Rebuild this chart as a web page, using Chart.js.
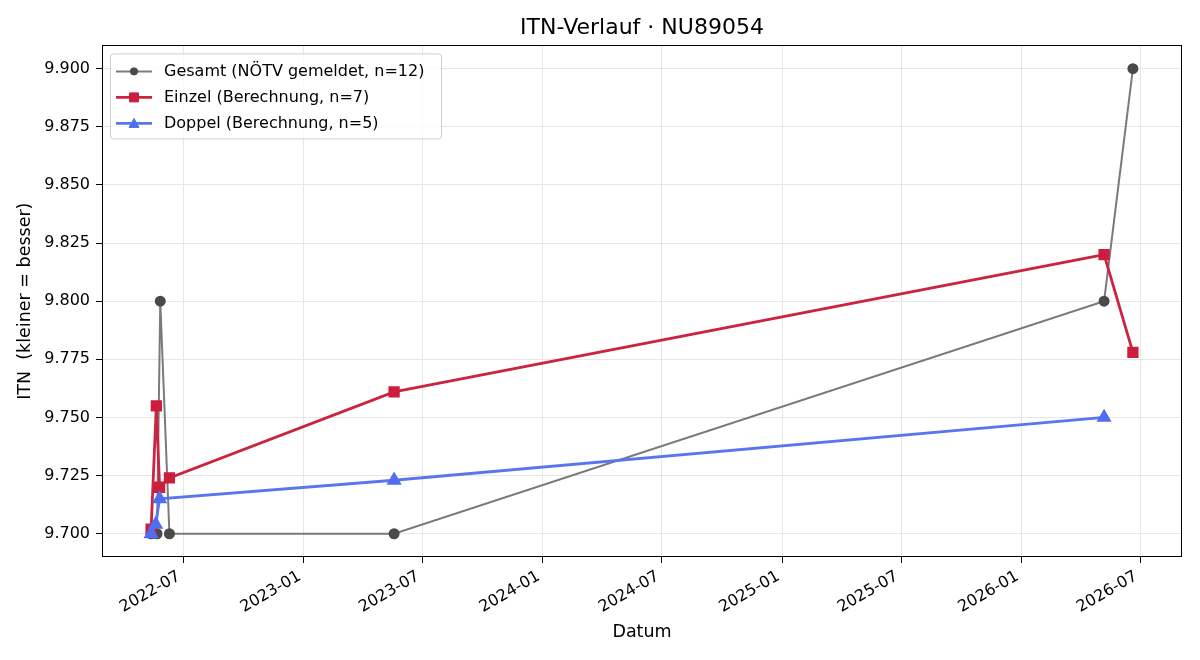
<!DOCTYPE html>
<html>
<head>
<meta charset="utf-8">
<script src="https://cdn.jsdelivr.net/npm/chart.js@4"></script>
<style>
  html, body { margin: 0; padding: 0; background: #fff; }
  #wrap { width: 1200px; height: 660px; }
</style>
</head>
<body>
<div id="wrap"><canvas id="itnchart" width="1200" height="660"></canvas></div>
<script>
// data
const gesamt_dates = ['2022-05-13', '2022-05-22', '2022-05-27', '2022-06-10', '2023-05-19', '2026-05-07', '2026-06-20'];
const gesamt_values = [9.700, 9.700, 9.800, 9.700, 9.700, 9.800, 9.900];

const einzel_dates = ['2022-05-13', '2022-05-21', '2022-05-26', '2022-06-10', '2023-05-19', '2026-05-07', '2026-06-20'];
const einzel_values = [9.702, 9.755, 9.720, 9.724, 9.761, 9.820, 9.778];

const doppel_dates = ['2022-05-13', '2022-05-20', '2022-05-26', '2023-05-19', '2026-05-07'];
const doppel_values = [9.700, 9.704, 9.715, 9.723, 9.750];

const x_tick_labels = ['2022-07', '2023-01', '2023-07', '2024-01', '2024-07', '2025-01', '2025-07', '2026-01', '2026-07'];
const y_tick_values = [9.700, 9.725, 9.750, 9.775, 9.800, 9.825, 9.850, 9.875, 9.900];

const FONT = "'DejaVu Sans', 'Liberation Sans', sans-serif";

function toPoints(dates, values){
    return dates.map((d, i) => ({x: Date.parse(d + 'T00:00:00Z'), y: values[i]}));
}

const all_times = [].concat(gesamt_dates, einzel_dates, doppel_dates).map(d => Date.parse(d + 'T00:00:00Z'));
const t_min = Math.min(...all_times);
const t_max = Math.max(...all_times);
const t_pad = (t_max - t_min) * 0.05;
const x_ticks = x_tick_labels.map(l => Date.parse(l + '-01T00:00:00Z'));

// legend box inside the axes, like matplotlib's upper left
const innerLegend = {
    id: 'innerLegend',
    afterDatasetsDraw(chart){
        const ctx = chart.ctx;
        const area = chart.chartArea;
        const x0 = area.left + 8, y0 = area.top + 8;
        const w = 331, h = 85;
        ctx.save();
        ctx.fillStyle = 'rgba(255,255,255,0.8)';
        ctx.strokeStyle = '#d0d0d0';
        ctx.lineWidth = 1;
        ctx.beginPath();
        ctx.roundRect(x0 + 0.5, y0 + 0.5, w, h, 3);
        ctx.fill();
        ctx.stroke();
        ctx.font = '16px ' + FONT;
        ctx.textBaseline = 'middle';
        chart.data.datasets.forEach((ds, i) => {
            const cy = y0 + 18 + i * 26;
            ctx.strokeStyle = ds.borderColor;
            ctx.lineWidth = ds.borderWidth;
            ctx.beginPath();
            ctx.moveTo(x0 + 6, cy);
            ctx.lineTo(x0 + 42, cy);
            ctx.stroke();
            ctx.fillStyle = ds.pointBackgroundColor;
            ctx.strokeStyle = ds.pointBorderColor;
            ctx.lineWidth = 1;
            ctx.beginPath();
            if (ds.pointStyle === 'circle') {
                ctx.arc(x0 + 24, cy, 3.6, 0, Math.PI * 2);
            } else if (ds.pointStyle === 'rect') {
                ctx.rect(x0 + 24 - 4.5, cy - 4.5, 9, 9);
            } else {
                ctx.moveTo(x0 + 24, cy - 5);
                ctx.lineTo(x0 + 24 + 5, cy + 4);
                ctx.lineTo(x0 + 24 - 5, cy + 4);
                ctx.closePath();
            }
            ctx.fill();
            ctx.stroke();
            ctx.fillStyle = '#000';
            ctx.fillText(ds.label, x0 + 54, cy);
        });
        ctx.restore();
    },
    afterDraw(chart){
        const a = chart.chartArea;
        const ctx = chart.ctx;
        ctx.save();
        ctx.strokeStyle = '#000';
        ctx.lineWidth = 1;
        ctx.strokeRect(Math.round(a.left) + 0.5, Math.round(a.top) + 0.5,
                       Math.round(a.right - a.left) - 1, Math.round(a.bottom - a.top) - 1);
        ctx.restore();
    }
};

new Chart(document.getElementById('itnchart').getContext('2d'), {
    type: 'line',
    data: {
        datasets: [{
            label: 'Gesamt (NÖTV gemeldet, n=12)',
            data: toPoints(gesamt_dates, gesamt_values),
            borderColor: '#7a7a7a',
            borderWidth: 2,
            pointStyle: 'circle',
            pointRadius: 4.5,
            pointBackgroundColor: '#4a4a4a',
            pointBorderColor: '#4a4a4a',
            order: 3
        }, {
            label: 'Einzel (Berechnung, n=7)',
            data: toPoints(einzel_dates, einzel_values),
            borderColor: 'rgb(203,36,64)',
            borderWidth: 2.8,
            pointStyle: 'rect',
            pointRadius: 6,
            pointBackgroundColor: 'rgb(203,30,62)',
            pointBorderColor: 'rgb(203,30,62)',
            order: 2
        }, {
            label: 'Doppel (Berechnung, n=5)',
            data: toPoints(doppel_dates, doppel_values),
            borderColor: 'rgb(90,117,240)',
            borderWidth: 2.8,
            pointStyle: 'triangle',
            pointRadius: 6,
            pointBackgroundColor: 'rgb(80,110,240)',
            pointBorderColor: 'rgb(80,110,240)',
            order: 1
        }]
    },
    options: {
        responsive: false,
        animation: false,
        layout: { padding: { left: 0, right: 18, top: 0, bottom: 0 } },
        plugins: {
            legend: { display: false },
            tooltip: { enabled: false },
            title: {
                display: true,
                text: 'ITN-Verlauf · NU89054',
                fullSize: false,
                color: '#000',
                font: { family: FONT, size: 22, weight: 'normal' },
                padding: { top: 15, bottom: 4 }
            }
        },
        scales: {
            x: {
                type: 'linear',
                min: t_min - t_pad,
                max: t_max + t_pad,
                afterBuildTicks: axis => { axis.ticks = x_ticks.map(v => ({value: v})); },
                afterFit: axis => { axis.height = 103; },
                grid: { color: '#e6e6e6', lineWidth: 1, tickColor: '#000', tickLength: 6 },
                border: { display: false },
                ticks: {
                    autoSkip: false,
                    maxRotation: 30,
                    minRotation: 30,
                    padding: 4,
                    labelOffset: -4,
                    color: '#000',
                    font: { family: FONT, size: 16 },
                    callback: (v) => x_tick_labels[x_ticks.indexOf(v)] ?? ''
                },
                title: {
                    display: true,
                    text: 'Datum',
                    color: '#000',
                    font: { family: FONT, size: 17.5 },
                    padding: { top: 0, bottom: 17 }
                }
            },
            y: {
                min: 9.69,
                max: 9.91,
                afterBuildTicks: axis => { axis.ticks = y_tick_values.map(v => ({value: v})); },
                afterFit: axis => { axis.width = 102; },
                grid: { color: '#e6e6e6', lineWidth: 1, tickColor: '#000', tickLength: 6 },
                border: { display: false },
                ticks: {
                    padding: 6,
                    color: '#000',
                    font: { family: FONT, size: 16 },
                    callback: v => v.toFixed(3)
                },
                title: {
                    display: true,
                    text: 'ITN  (kleiner = besser)',
                    color: '#000',
                    font: { family: FONT, size: 17.5 },
                    padding: { top: 15, bottom: 0 }
                }
            }
        }
    },
    plugins: [innerLegend]
});
</script>
</body>
</html>
